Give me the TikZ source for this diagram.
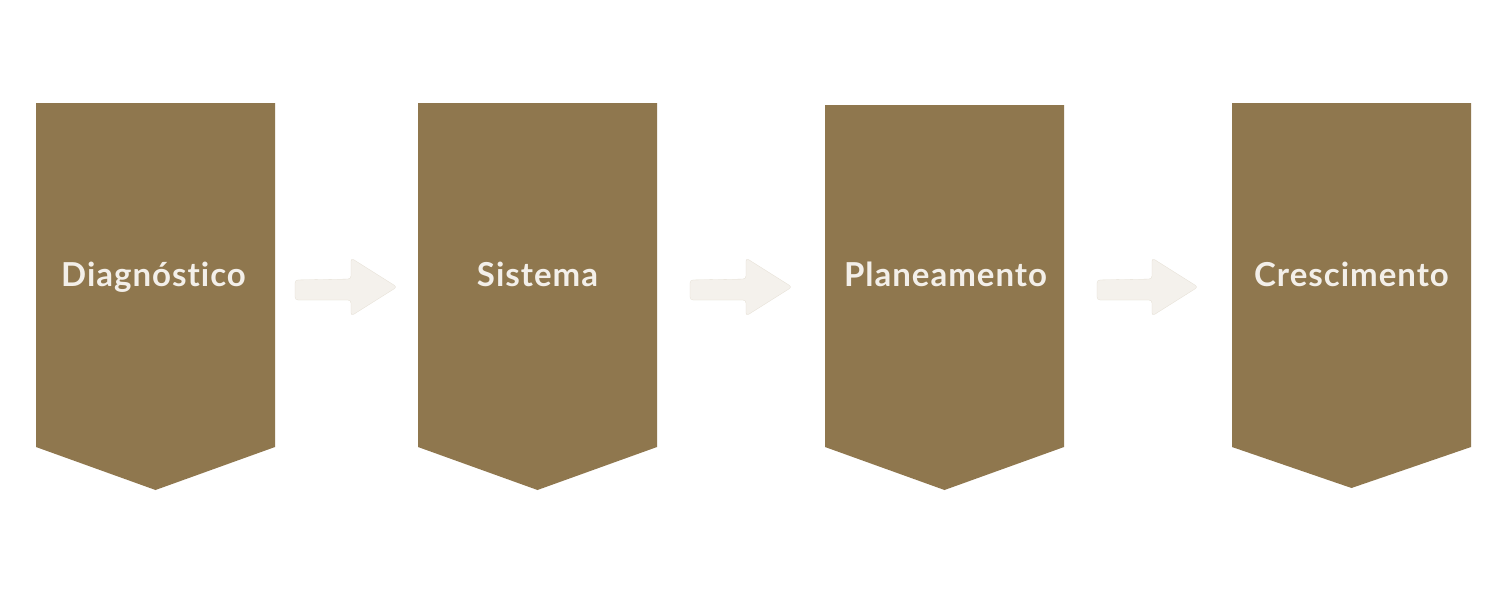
\documentclass[tikz,border=0pt]{standalone}
\usepackage{fontspec}
\setmainfont{Lato}[Ligatures=NoCommon]
\definecolor{boxbrown}{HTML}{8F774E}
\definecolor{arrowcream}{HTML}{F4F1EC}
\definecolor{labelcream}{HTML}{F3EFE9}
\begin{document}
\begin{tikzpicture}[x=1pt,y=-1pt,
  chevron/.style={fill=boxbrown},
  steplabel/.style={text=labelcream,font=\bfseries\fontsize{33}{39}\selectfont\addfontfeature{LetterSpace=3},inner sep=0pt,anchor=base},
  flowarrow/.style={fill=arrowcream,draw=arrowcream!85!boxbrown,line width=0.3pt,rounded corners=3pt}]
\useasboundingbox[fill=white] (0,0) rectangle (1500,594);
% boxes
\foreach \x/\top/\tip/\dx/\name/\txt in {36/103/490/-2/b1/Diagnóstico,418/103/490/0/b2/Sistema,825/105/490/1/b3/Planeamento,1232/103/488/0/b4/Crescimento}{
  \fill[chevron] (\x,\top) -- (\x+239,\top) -- (\x+239,447) -- (\x+119.5,\tip) -- (\x,447) -- cycle;
  \node[steplabel] (\name) at (\x+119.5+\dx,286) {\txt};
}
% arrows
\foreach \s/\e/\n in {295/397/a1,690/792/a2,1097/1198/a3}{
  \coordinate (\n s) at (\s,290);
  \coordinate (\n e) at (\e,287);
  \draw[flowarrow] (\s,280) -- (\e-46,279) -- (\e-46,258) -- (\n e) -- (\e-46,316) -- (\e-46,300) -- (\s,300) -- cycle;
}
\end{tikzpicture}
\end{document}
